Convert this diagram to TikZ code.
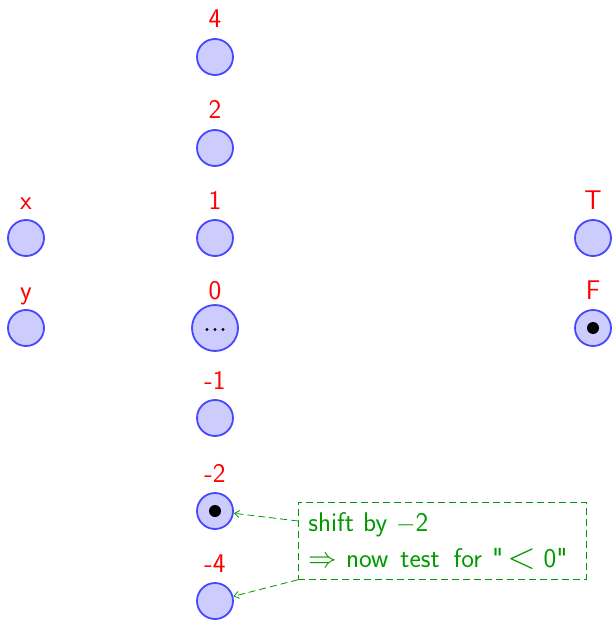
\documentclass[tikz,border=0pt]{standalone}
\usepackage{fontspec}
\usetikzlibrary{calc,arrows.meta}
\begin{document}
\begin{tikzpicture}[x=1pt,y=-1pt,
  var/.style={circle, draw=blue!72, fill=blue!20, line width=1.8pt,
              minimum size=36pt, inner sep=0pt},
  lbl/.style={text=red, font=\fontsize{27}{32}\selectfont\sffamily,
              anchor=base, inner sep=0pt},
  tok/.style={circle, fill=black, minimum size=12pt, inner sep=0pt},
  dot/.style={circle, fill=black, minimum size=3.2pt, inner sep=0pt},
  note/.style={draw=green!60!black, text=green!60!black,
               dash pattern=on 7pt off 4pt, line width=0.8pt,
               font=\fontsize{27}{36}\selectfont\sffamily, align=left,
               inner xsep=10pt, inner ysep=10pt},
  pointer/.style={draw=green!60!black, dash pattern=on 7pt off 4pt,
                  line width=0.8pt, -{Straight Barb[length=5pt,width=7pt]}}]
\useasboundingbox (0,0) rectangle (611,620);

% inputs
\node[var] (x) at (26,238) {};
\node[var] (y) at (26,328) {};
\node[lbl] (lx) at ($(x)+(0,-29)$) {x};
\node[lbl] (ly) at ($(y)+(0,-29)$) {y};

% value column
\node[var] (n4)  at (215,57)  {};
\node[var] (n2)  at (215,148) {};
\node[var] (n1)  at (215,238) {};
\node[var, minimum size=46pt] (n0) at (215,328) {};
\node[var] (nm1) at (215,418) {};
\node[var] (nm2) at (215,511) {};
\node[var] (nm4) at (215,601) {};
\node[tok] at (nm2) {};

% ellipsis inside the 0 node
\node[dot] (d1) at ($(n0)+(-8,1.5)$) {};
\node[dot] (d2) at ($(n0)+(0,1.5)$) {};
\node[dot] (d3) at ($(n0)+(8,1.5)$) {};

\node[lbl] (l4)  at ($(n4)+(0,-29)$)  {4};
\node[lbl] (l2)  at ($(n2)+(0,-29)$)  {2};
\node[lbl] (l1)  at ($(n1)+(0,-29)$)  {1};
\node[lbl] (l0)  at ($(n0)+(0,-29)$)  {0};
\node[lbl] (lm1) at ($(nm1)+(0,-29)$) {-1};
\node[lbl] (lm2) at ($(nm2)+(0,-29)$) {-2};
\node[lbl] (lm4) at ($(nm4)+(0,-29)$) {-4};

% outputs
\node[var] (t) at (593,238) {};
\node[var] (f) at (593,328) {};
\node[tok] at (f) {};
\node[lbl] (lt) at ($(t)+(0,-29)$) {T};
\node[lbl] (lf) at ($(f)+(0,-29)$) {F};

% annotation
\node[note, anchor=north west, text width=268pt] (box) at (298,502)
  {shift by $-$2\\
   \scalebox{1.15}{$\Rightarrow$}\hspace{9pt}now\hspace{12pt}test\hspace{14pt}for\hspace{10pt}\textquotedbl\hspace{4pt}\raisebox{-1pt}{\scalebox{1.5}{$<$}}\hspace{8pt}0\textquotedbl};
\coordinate (a1) at ($(box.north west)+(0,19)$);
\draw[pointer] (a1) -- (nm2);
\draw[pointer] (box.south west) -- (nm4);
\end{tikzpicture}
\end{document}
